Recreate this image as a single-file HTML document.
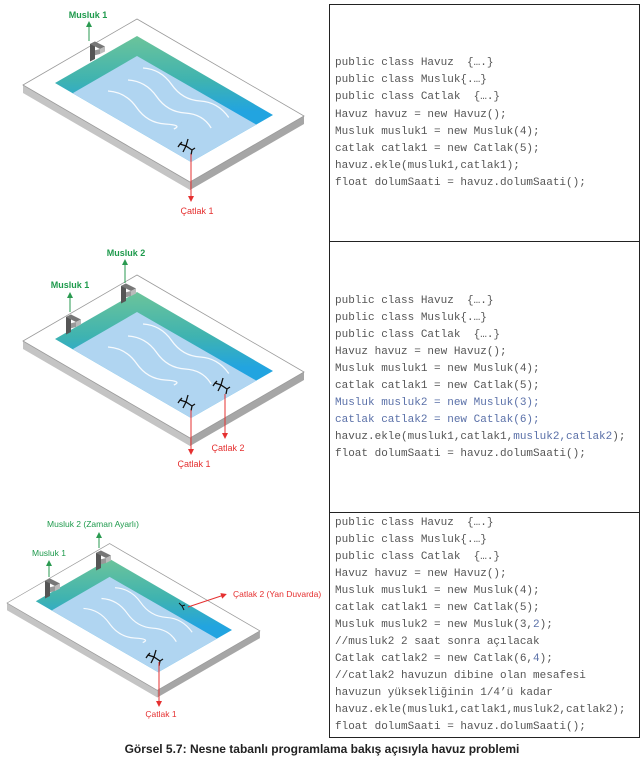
<!DOCTYPE html>
<html><head><meta charset="utf-8"><style>
body{margin:0;background:#fff;width:644px;height:769px;position:relative;overflow:hidden;font-family:"Liberation Sans",sans-serif}
svg{position:absolute;left:0;top:0}
.code{position:absolute;left:335px;margin:0;font-family:"Liberation Mono",monospace;font-size:11px;color:#555;white-space:pre}
.b{color:#5a70a8}
.cap{position:absolute;left:0;width:644px;top:742px;text-align:center;font-weight:bold;font-size:12px;letter-spacing:0px;color:#222}
</style></head><body>
<svg width="644" height="769" viewBox="0 0 644 769">
<defs>
<linearGradient id="wall" x1="0" y1="0" x2="0" y2="1" gradientUnits="objectBoundingBox">
<stop offset="0" stop-color="#6cc49a"/><stop offset="0.35" stop-color="#3fb3b0"/><stop offset="0.6" stop-color="#22a4e0"/><stop offset="1" stop-color="#22a4e0"/>
</linearGradient>
<clipPath id="op"><polygon points="55,83 137,36 273,115 191,162"/></clipPath>
<g id="pool">
<polygon points="23,85 190,182 190,190 23,93" fill="#c4c4c4"/>
<polygon points="190,182 304,116 304,124 190,190" fill="#a6a6a6"/>
<polygon points="23,85 137,19 304,116 190,182" fill="#fff" stroke="#9a9a9a" stroke-width="0.8"/>
<polygon points="55,83 137,36 273,115 191,162" fill="url(#wall)"/>
<g clip-path="url(#op)"><polygon points="73,93 137,56 257,125 191,163 140,180" fill="#b0d5f1"/></g>
<g fill="none" stroke="#fff" stroke-width="1.3" opacity="0.9">
<path d="M0 0 q16 -8 33 0 t33 0 t33 0" transform="translate(143,68) rotate(30)"/>
<path d="M0 0 q16 -8 33 0 t33 0 t30 0" transform="translate(128,80) rotate(30)"/>
<path d="M0 0 q16 -8 33 0 t33 0 t10 0" transform="translate(108,91) rotate(30)"/>
</g>
</g>
<g id="fau" transform="scale(1.25)">
<polygon points="0,0 4,-2 4,12 0,14" fill="#555"/>
<polygon points="0,0 4,-2 12,2 8,4" fill="#777"/>
<polygon points="8,4 12,2 12,6 8,8" fill="#bbb"/>
<polygon points="4,5 8,4 8,8 4,9" fill="#999"/>
</g>
<g id="crk" stroke="#111" stroke-width="1.3" fill="none">
<path d="M-6,-2 L0,0 L6,4 M0,0 L2,-7 M0,0 L-3,6 M6,4 L9,2 M6,4 L5,9 M-4,-4 L-6,-2 L-8,1"/>
</g>
<marker id="ag" markerWidth="6" markerHeight="6" refX="3" refY="3" orient="auto"><path d="M0,0 L6,3 L0,6z" fill="#2a9a50"/></marker>
<marker id="ar" markerWidth="6" markerHeight="6" refX="3" refY="3" orient="auto"><path d="M0,0 L6,3 L0,6z" fill="#e53030"/></marker>
</defs>

<!-- pool 1 -->
<use href="#pool"/>
<use href="#fau" x="90" y="44"/>
<use href="#crk" x="186" y="146"/>
<line x1="89" y1="41" x2="89" y2="24" stroke="#2a9a50" stroke-width="1" marker-end="url(#ag)"/>
<line x1="191" y1="154" x2="191" y2="199" stroke="#e53030" stroke-width="1" marker-end="url(#ar)"/>
<text x="88" y="18" font-size="9" fill="#1e9a4c" text-anchor="middle" font-weight="bold">Musluk 1</text>
<text x="197" y="214" font-size="9" fill="#e53030" text-anchor="middle">Çatlak 1</text>

<!-- pool 2 -->
<g transform="translate(0,256)"><use href="#pool"/></g>
<use href="#fau" x="66" y="317"/>
<use href="#fau" x="121" y="286"/>
<use href="#crk" x="186" y="402"/>
<use href="#crk" x="221" y="385"/>
<line x1="70" y1="312" x2="70" y2="295" stroke="#2a9a50" stroke-width="1" marker-end="url(#ag)"/>
<line x1="125" y1="283" x2="125" y2="262" stroke="#2a9a50" stroke-width="1" marker-end="url(#ag)"/>
<line x1="191" y1="410" x2="191" y2="452" stroke="#e53030" stroke-width="1" marker-end="url(#ar)"/>
<line x1="225" y1="394" x2="225" y2="436" stroke="#e53030" stroke-width="1" marker-end="url(#ar)"/>
<text x="70" y="288" font-size="9" fill="#1e9a4c" text-anchor="middle" font-weight="bold">Musluk 1</text>
<text x="126" y="256" font-size="9" fill="#1e9a4c" text-anchor="middle" font-weight="bold">Musluk 2</text>
<text x="194" y="467" font-size="9" fill="#e53030" text-anchor="middle">Çatlak 1</text>
<text x="228" y="451" font-size="9" fill="#e53030" text-anchor="middle">Çatlak 2</text>

<!-- pool 3 -->
<g transform="translate(-13.7,526.5) scale(0.9)"><use href="#pool"/></g>
<use href="#fau" x="45" y="581"/>
<use href="#fau" x="96" y="553"/>
<use href="#crk" x="154" y="657"/>
<path d="M-3,-3 L0,0 L2,4 M0,0 L3,-1" transform="translate(182,606)" stroke="#111" stroke-width="1" fill="none"/>
<line x1="49" y1="577" x2="49" y2="563" stroke="#2a9a50" stroke-width="1" marker-end="url(#ag)"/>
<line x1="99" y1="548" x2="99" y2="535" stroke="#2a9a50" stroke-width="1" marker-end="url(#ag)"/>
<line x1="159" y1="662" x2="159" y2="704" stroke="#e53030" stroke-width="1" marker-end="url(#ar)"/>
<line x1="188" y1="607" x2="224" y2="595" stroke="#e53030" stroke-width="1" marker-end="url(#ar)"/>
<text x="93" y="527" font-size="8.5" fill="#1e9a4c" text-anchor="middle">Musluk 2 (Zaman Ayarlı)</text>
<text x="49" y="556" font-size="8.5" fill="#1e9a4c" text-anchor="middle">Musluk 1</text>
<text x="161" y="717" font-size="8.5" fill="#e53030" text-anchor="middle">Çatlak 1</text>
<text x="233" y="597" font-size="8.5" fill="#e53030">Çatlak 2 (Yan Duvarda)</text>

<!-- code boxes -->
<rect x="329.5" y="4.5" width="310" height="733" fill="none" stroke="#222" stroke-width="1"/>
<line x1="329" y1="241.5" x2="640" y2="241.5" stroke="#222" stroke-width="1"/>
<line x1="329" y1="512.5" x2="640" y2="512.5" stroke="#222" stroke-width="1"/>
</svg>

<pre class="code" style="top:55px;line-height:17.2px">public class Havuz  {….}
public class Musluk{.…}
public class Catlak  {….}
Havuz havuz = new Havuz();
Musluk musluk1 = new Musluk(4);
catlak catlak1 = new Catlak(5);
havuz.ekle(musluk1,catlak1);
float dolumSaati = havuz.dolumSaati();</pre>

<pre class="code" style="top:293px;line-height:17px">public class Havuz  {….}
public class Musluk{.…}
public class Catlak  {….}
Havuz havuz = new Havuz();
Musluk musluk1 = new Musluk(4);
catlak catlak1 = new Catlak(5);
<span class="b">Musluk musluk2 = new Musluk(3);</span>
<span class="b">catlak catlak2 = new Catlak(6);</span>
havuz.ekle(musluk1,catlak1,<span class="b">musluk2,catlak2</span>);
float dolumSaati = havuz.dolumSaati();</pre>

<pre class="code" style="top:515px;line-height:17px">public class Havuz  {….}
public class Musluk{.…}
public class Catlak  {….}
Havuz havuz = new Havuz();
Musluk musluk1 = new Musluk(4);
catlak catlak1 = new Catlak(5);
Musluk musluk2 = new Musluk(3,<span class="b">2</span>);
//musluk2 2 saat sonra açılacak
Catlak catlak2 = new Catlak(6,<span class="b">4</span>);
//catlak2 havuzun dibine olan mesafesi
havuzun yüksekliğinin 1/4’ü kadar
havuz.ekle(musluk1,catlak1,musluk2,catlak2);
float dolumSaati = havuz.dolumSaati();</pre>

<div class="cap">Görsel 5.7: Nesne tabanlı programlama bakış açısıyla havuz problemi</div>
</body></html>
